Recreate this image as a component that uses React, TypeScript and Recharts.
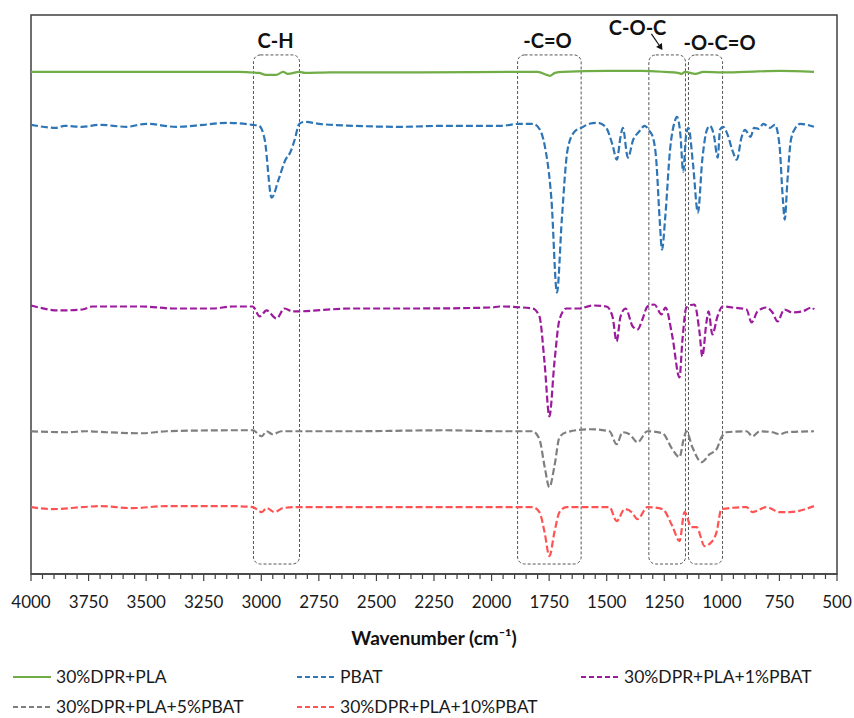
import React from "react";
import {
  LineChart,
  Line,
  XAxis,
  YAxis,
  ReferenceArea,
  ReferenceDot,
  ReferenceLine,
} from "recharts";

// wavenumber (cm-1) and offset transmittance (a.u.)
const dprPlaWn = [4000, 3500, 3100, 3050, 3010, 2980, 2935, 2905, 2885, 2835, 2810, 2700, 2300, 1900, 1800, 1760, 1747, 1725, 1690, 1500, 1350, 1250, 1190, 1175, 1160, 1115, 1080, 1000, 900, 750, 600];
const dprPlaT = [503, 503, 503, 502.5, 502, 500, 500, 503, 501, 503, 502, 502.5, 502.5, 503, 503, 500, 499, 502, 503, 504, 504, 503, 502, 501, 503, 501, 503, 502.5, 503, 504, 503];

const pbatWn = [4000, 3890, 3855, 3780, 3700, 3585, 3500, 3370, 3250, 3150, 3040, 3010, 2985, 2955, 2925, 2895, 2875, 2855, 2835, 2810, 2750, 2600, 2400, 2200, 1960, 1880, 1820, 1790, 1770, 1740, 1716, 1695, 1670, 1640, 1610, 1575, 1540, 1505, 1475, 1456, 1440, 1430, 1408, 1385, 1360, 1335, 1315, 1300, 1285, 1270, 1260, 1245, 1225, 1205, 1195, 1180, 1168, 1155, 1145, 1125, 1104, 1085, 1065, 1052, 1035, 1018, 1008, 995, 975, 955, 935, 915, 900, 875, 860, 840, 820, 790, 770, 750, 735, 727, 715, 700, 680, 660, 630, 600];
const pbatT = [450, 447, 449, 448, 450, 448, 451, 448, 450, 452, 450, 449, 435, 377, 395, 415, 422, 435, 451, 453, 451, 449, 448, 449, 449, 451, 451, 445, 430, 375, 282, 355, 425, 443, 447, 451, 452, 448, 430, 415, 438, 447, 417, 435, 443, 449, 444, 438, 415, 355, 325, 360, 425, 453, 458, 440, 403, 440, 447, 410, 362, 415, 445, 449, 440, 417, 445, 448, 440, 425, 415, 437, 445, 438, 447, 446, 451, 447, 450, 430, 375, 355, 395, 435, 447, 451, 450, 448];

const pbat1Wn = [4000, 3876, 3776, 3733, 3516, 3385, 3212, 3125, 3037, 3007, 2977, 2934, 2899, 2864, 2600, 2300, 2000, 1966, 1822, 1792, 1770, 1749, 1727, 1705, 1675, 1618, 1562, 1501, 1475, 1457, 1440, 1418, 1387, 1366, 1345, 1323, 1293, 1262, 1245, 1215, 1184, 1171, 1154, 1119, 1097, 1085, 1067, 1058, 1041, 1019, 997, 954, 893, 871, 845, 806, 780, 758, 729, 694, 651, 608, 600];
const pbat1T = [269, 264, 265, 268, 268, 266, 266, 268, 268, 258, 264, 256, 266, 263, 266, 266, 267, 268, 266, 258, 212, 158, 212, 255, 266, 266, 269, 268, 258, 233, 258, 266, 248, 245, 255, 268, 270, 260, 267, 238, 197, 235, 267, 270, 242, 218, 252, 263, 240, 258, 268, 267, 265, 252, 263, 267, 262, 253, 265, 262, 263, 267, 265];

const pbat5Wn = [4000, 3846, 3759, 3672, 3516, 3412, 3125, 3037, 2998, 2977, 2951, 2912, 2600, 2200, 1966, 1822, 1792, 1770, 1749, 1727, 1705, 1675, 1575, 1488, 1457, 1431, 1401, 1366, 1323, 1258, 1215, 1184, 1166, 1154, 1128, 1088, 1053, 1023, 1002, 980, 893, 867, 836, 780, 749, 719, 600];
const pbat5T = [143, 142, 143, 142, 141, 143, 144, 144, 138, 143, 140, 143, 143, 144, 143, 143, 135, 108, 87, 108, 137, 142, 145, 143, 130, 142, 140, 132, 143, 141, 125, 117, 135, 143, 127, 112, 120, 125, 137, 142, 143, 138, 143, 142, 140, 142, 143];

const pbat10Wn = [4000, 3909, 3776, 3702, 3559, 3412, 3125, 3037, 2998, 2977, 2942, 2907, 2850, 2400, 1966, 1822, 1792, 1770, 1749, 1727, 1705, 1675, 1488, 1457, 1422, 1392, 1366, 1323, 1258, 1215, 1184, 1162, 1132, 1110, 1075, 1045, 1023, 1002, 893, 867, 806, 749, 706, 600];
const pbat10T = [67, 65, 67, 68, 66, 68, 68, 67, 62, 66, 62, 66, 67, 67, 67, 67, 62, 42, 18, 42, 62, 67, 67, 53, 65, 62, 55, 67, 65, 48, 33, 62, 47, 47, 28, 32, 42, 65, 67, 62, 67, 62, 62, 68];

const seriesNames = ["30%DPR+PLA", "PBAT", "30%DPR+PLA+1%PBAT", "30%DPR+PLA+5%PBAT", "30%DPR+PLA+10%PBAT"];
const seriesColors = ["#70AD47", "#2E75B6", "#9C1A9C", "#7F7F7F", "#FF5353"];

// band boxes and labels
const bandLabels = ["C-H", "-C=O", "C-O-C", "-O-C=O"];
const bandFrom = [3034, 1887, 1317, 1145];
const bandTo = [2834, 1611, 1158, 997];
const bandLabelWn = [2938, 1757, 1366, 1010];
const bandLabelY = [527, 527, 540, 525];

const majorTicks = [4000, 3750, 3500, 3250, 3000, 2750, 2500, 2250, 2000, 1750, 1500, 1250, 1000, 750, 500];
const allTicks = Array.from({ length: 71 }, (_, i) => 500 + i * 50);

const FONT = "Lato, 'Open Sans', sans-serif";

function pts(wn: number[], t: number[]) {
  return wn.map((w, i) => ({ wn: w, t: t[i] }));
}

const seriesData = [
  pts(dprPlaWn, dprPlaT),
  pts(pbatWn, pbatT),
  pts(pbat1Wn, pbat1T),
  pts(pbat5Wn, pbat5T),
  pts(pbat10Wn, pbat10T),
];

function AxisTick(props: any) {
  const { x, y, payload } = props;
  const major = majorTicks.includes(payload.value);
  return (
    <g>
      <line x1={x} x2={x} y1={y} y2={y + (major ? 7 : 5)} stroke="#404040" strokeWidth={1.2} />
      {major && (
        <text x={x} y={y + 34} textAnchor="middle" fontSize={17} fill="#1a1a1a" fontFamily={FONT}>
          {payload.value}
        </text>
      )}
    </g>
  );
}

function Legend() {
  const items = [
    { row: 0, x: 13 },
    { row: 0, x: 297 },
    { row: 0, x: 581 },
    { row: 1, x: 13 },
    { row: 1, x: 297 },
  ];
  return (
    <>
      {items.map((it, i) => (
        <div
          key={i}
          style={{
            position: "absolute",
            left: it.x,
            top: it.row === 0 ? 666 : 696,
            display: "flex",
            alignItems: "center",
            fontFamily: FONT,
            fontSize: 17.5,
            color: "#1a1a1a",
            whiteSpace: "nowrap",
          }}
        >
          <svg width={40} height={20} style={{ marginRight: 3 }}>
            <line
              x1={0}
              x2={38}
              y1={10}
              y2={10}
              stroke={seriesColors[i]}
              strokeWidth={2}
              strokeDasharray={i === 0 ? undefined : "5 3"}
            />
          </svg>
          <span>{seriesNames[i]}</span>
        </div>
      ))}
    </>
  );
}

export default function App() {
  return (
    <div style={{ position: "absolute", left: 0, top: 0, width: 854, height: 718, background: "#fff" }}>
      <LineChart width={854} height={718} margin={{ top: 15, right: 17, bottom: 82, left: 31 }}>
        <XAxis
          type="number"
          dataKey="wn"
          domain={[500, 4000]}
          reversed
          ticks={allTicks}
          interval={0}
          tick={<AxisTick />}
          tickLine={false}
          tickSize={0}
          tickMargin={0}
          height={62}
          axisLine={{ stroke: "#404040", strokeWidth: 1.5 }}
          label={{
            content: (p: any) => {
              const vb = p.viewBox;
              return (
                <text
                  x={vb.x + vb.width / 2}
                  y={vb.y + 71}
                  textAnchor="middle"
                  fontSize={19}
                  fontWeight="bold"
                  fill="#111"
                  fontFamily={FONT}
                >
                  Wavenumber (cm⁻¹)
                </text>
              );
            },
          }}
        />
        <YAxis type="number" domain={[0, 560]} hide allowDataOverflow />
        <ReferenceArea
          x1={4000}
          x2={500}
          y1={0}
          y2={560}
          shape={(p: any) => (
            <rect x={p.x} y={p.y} width={p.width} height={p.height} fill="none" stroke="#404040" strokeWidth={1.5} />
          )}
        />
        {bandFrom.map((f, i) => (
          <ReferenceArea
            key={"box" + i}
            x1={f}
            x2={bandTo[i]}
            y1={10}
            y2={520}
            shape={(p: any) => (
              <rect
                x={p.x}
                y={p.y}
                width={p.width}
                height={p.height}
                rx={7}
                fill="none"
                stroke="#555"
                strokeWidth={1}
                strokeDasharray="3 2"
              />
            )}
          />
        ))}
        {seriesData.map((d, i) => (
          <Line
            key={seriesNames[i]}
            data={d}
            dataKey="t"
            name={seriesNames[i]}
            type="monotone"
            stroke={seriesColors[i]}
            strokeWidth={2.2}
            strokeDasharray={i === 0 ? undefined : "7 3"}
            dot={false}
            activeDot={false}
            isAnimationActive={false}
          />
        ))}
        {bandLabels.map((lab, i) => (
          <ReferenceDot
            key={lab}
            x={bandLabelWn[i]}
            y={bandLabelY[i]}
            r={0}
            shape={(p: any) => (
              <text x={p.cx} y={p.cy} textAnchor="middle" fontSize={20} fontWeight="bold" fill="#111" fontFamily={FONT}>
                {lab}
              </text>
            )}
          />
        ))}
        <ReferenceLine
          segment={[
            { x: 1306, y: 541 },
            { x: 1258, y: 525 },
          ]}
          shape={(p: any) => {
            const { x1, y1, x2, y2 } = p;
            const a = Math.atan2(y2 - y1, x2 - x1);
            const L = 6;
            const w = 3.5;
            const bx = x2 - L * Math.cos(a);
            const by = y2 - L * Math.sin(a);
            return (
              <g>
                <line x1={x1} y1={y1} x2={bx} y2={by} stroke="#111" strokeWidth={1.2} />
                <polygon
                  points={`${x2},${y2} ${bx - w * Math.sin(a)},${by + w * Math.cos(a)} ${bx + w * Math.sin(a)},${by - w * Math.cos(a)}`}
                  fill="#111"
                />
              </g>
            );
          }}
        />
      </LineChart>
      <Legend />
    </div>
  );
}
